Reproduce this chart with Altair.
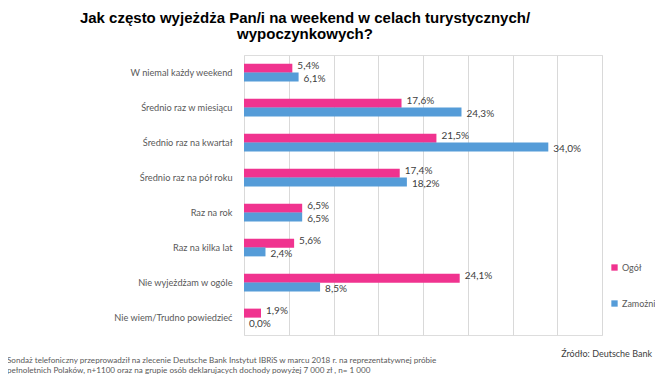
import altair as alt
import pandas as pd

categories = [
    "W niemal każdy weekend",
    "Średnio raz w miesiącu",
    "Średnio raz na kwartał",
    "Średnio raz na pół roku",
    "Raz na rok",
    "Raz na kilka lat",
    "Nie wyjeżdżam w ogóle",
    "Nie wiem/Trudno powiedzieć",
]
series_names = ["Ogół", "Zamożni"]
ogol = [5.4, 17.6, 21.5, 17.4, 6.5, 5.6, 24.1, 1.9]
zamozni = [6.1, 24.3, 34.0, 18.2, 6.5, 2.4, 8.5, 0.0]
colors = ["#F0338F", "#559CD8"]

title_lines = ["Jak często wyjeżdża Pan/i na weekend w celach turystycznych/", "wypoczynkowych?"]
foot_lines = [
    "Sondaż telefoniczny przeprowadził na zlecenie Deutsche Bank  Instytut IBRiS w marcu 2018 r. na  reprezentatywnej próbie",
    "pełnoletnich Polaków, n+1100 oraz na grupie osób deklarujacych dochody powyżej 7  000 zł , n= 1 000",
]
source_text = "Źródło: Deutsche Bank"

rows = []
for i, c in enumerate(categories):
    rows.append({"cat": c, "series": series_names[0], "v": ogol[i]})
    rows.append({"cat": c, "series": series_names[1], "v": zamozni[i]})
df = pd.DataFrame(rows)

W, H = 358, 280

y_enc = alt.Y("cat:N", sort=categories,
              scale=alt.Scale(paddingInner=0.5, paddingOuter=0.25),
              axis=alt.Axis(title=None, ticks=False, domain=False, labelPadding=12,
                            labelFont="Lato", labelFontSize=9.2, labelColor="#595959",
                            labelLimit=300))
yoff = alt.YOffset("series:N", scale=alt.Scale(domain=series_names))
x_enc = alt.X("v:Q", scale=alt.Scale(domain=[0, 40], nice=False),
              axis=alt.Axis(title=None, labels=False, ticks=False, domain=False,
                            values=list(range(0, 41, 5)), grid=True,
                            gridColor="#D9D9D9", gridWidth=1))

base = alt.Chart(df)

bars = base.mark_bar(size=9).encode(
    x=x_enc, y=y_enc, yOffset=yoff,
    color=alt.Color("series:N", scale=alt.Scale(domain=series_names, range=colors),
                    legend=alt.Legend(title=None, orient="none", legendX=366, legendY=208,
                                      symbolType="square", symbolSize=40,
                                      labelFont="Lato", labelFontSize=9,
                                      labelColor="#595959", rowPadding=26,
                                      labelOffset=3, symbolStrokeWidth=0)),
)

def labels(name, dy):
    return base.transform_filter(alt.datum.series == name).transform_calculate(
        lab="replace(format(datum.v, '.1f'), '.', ',') + '%'"
    ).mark_text(align="left", baseline="middle", dx=5, dy=dy, font="Lato",
                fontSize=10, color="#404040").encode(
        x=alt.X("v:Q", scale=alt.Scale(domain=[0, 40], nice=False)),
        y=alt.Y("cat:N", sort=categories), yOffset=yoff, text="lab:N")

lab1 = labels(series_names[0], -2)
lab2 = labels(series_names[1], 2)

def txt(text, x, y, **kw):
    return alt.Chart(pd.DataFrame({"t": [text]})).mark_text(**kw).encode(
        x=alt.value(x), y=alt.value(y), text="t:N")

t1 = txt(title_lines[0], 61, -32, align="center", baseline="alphabetic",
         font="Liberation Sans", fontSize=15, fontWeight="bold", color="#000000")
t2 = txt(title_lines[1], 61, -16, align="center", baseline="alphabetic",
         font="Liberation Sans", fontSize=15, fontWeight="bold", color="#000000")
f1 = txt(foot_lines[0], -237, 306, align="left", baseline="middle",
         font="Lato", fontSize=8.1, color="#595959")
f2 = txt(foot_lines[1], -237, 316, align="left", baseline="middle",
         font="Lato", fontSize=8.1, color="#595959")
src = txt(source_text, 408, 299, align="right", baseline="middle",
          font="Lato", fontSize=9, color="#404040")

chart = alt.layer(bars, lab1, lab2, t1, t2, f1, f2, src).properties(
    width=W, height=H,
    autosize=alt.AutoSizeParams(type="none"),
    padding={"left": 236, "top": 47, "right": 53, "bottom": 40},
).configure_view(stroke=None).configure(background="white")

chart.save("out.html", embed_options={"renderer": "svg", "actions": False})
